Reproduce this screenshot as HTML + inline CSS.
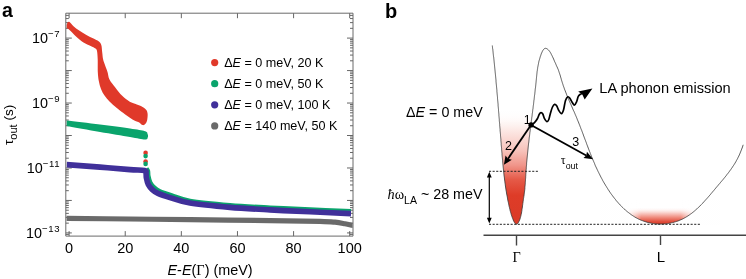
<!DOCTYPE html>
<html><head><meta charset="utf-8"><style>
html,body{margin:0;padding:0;background:#fff;width:746px;height:279px;overflow:hidden}
svg{display:block;will-change:transform}
</style></head><body>
<svg width="746" height="279" viewBox="0 0 746 279">
<text x="2" y="17.3" font-family="'Liberation Sans', sans-serif" font-weight="bold" font-size="19.5">a</text>
<path d="M69.10,236.1V231.1M69.10,13.2V18.2M125.22,236.1V231.1M125.22,13.2V18.2M181.34,236.1V231.1M181.34,13.2V18.2M237.46,236.1V231.1M237.46,13.2V18.2M293.58,236.1V231.1M293.58,13.2V18.2M349.70,236.1V231.1M349.70,13.2V18.2M65.8,234.41H68.8M353.0,234.41H350.0M65.8,232.92H71.8M353.0,232.92H347.0M65.8,223.15H68.8M353.0,223.15H350.0M65.8,217.43H68.8M353.0,217.43H350.0M65.8,213.37H68.8M353.0,213.37H350.0M65.8,210.22H68.8M353.0,210.22H350.0M65.8,207.65H68.8M353.0,207.65H350.0M65.8,205.48H68.8M353.0,205.48H350.0M65.8,203.60H68.8M353.0,203.60H350.0M65.8,201.94H68.8M353.0,201.94H350.0M65.8,200.45H71.8M353.0,200.45H347.0M65.8,190.68H68.8M353.0,190.68H350.0M65.8,184.96H68.8M353.0,184.96H350.0M65.8,180.90H68.8M353.0,180.90H350.0M65.8,177.75H68.8M353.0,177.75H350.0M65.8,175.18H68.8M353.0,175.18H350.0M65.8,173.01H68.8M353.0,173.01H350.0M65.8,171.13H68.8M353.0,171.13H350.0M65.8,169.47H68.8M353.0,169.47H350.0M65.8,167.98H71.8M353.0,167.98H347.0M65.8,158.21H68.8M353.0,158.21H350.0M65.8,152.49H68.8M353.0,152.49H350.0M65.8,148.43H68.8M353.0,148.43H350.0M65.8,145.28H68.8M353.0,145.28H350.0M65.8,142.71H68.8M353.0,142.71H350.0M65.8,140.54H68.8M353.0,140.54H350.0M65.8,138.66H68.8M353.0,138.66H350.0M65.8,137.00H68.8M353.0,137.00H350.0M65.8,135.51H71.8M353.0,135.51H347.0M65.8,125.74H68.8M353.0,125.74H350.0M65.8,120.02H68.8M353.0,120.02H350.0M65.8,115.96H68.8M353.0,115.96H350.0M65.8,112.81H68.8M353.0,112.81H350.0M65.8,110.24H68.8M353.0,110.24H350.0M65.8,108.07H68.8M353.0,108.07H350.0M65.8,106.19H68.8M353.0,106.19H350.0M65.8,104.53H68.8M353.0,104.53H350.0M65.8,103.04H71.8M353.0,103.04H347.0M65.8,93.27H68.8M353.0,93.27H350.0M65.8,87.55H68.8M353.0,87.55H350.0M65.8,83.49H68.8M353.0,83.49H350.0M65.8,80.34H68.8M353.0,80.34H350.0M65.8,77.77H68.8M353.0,77.77H350.0M65.8,75.60H68.8M353.0,75.60H350.0M65.8,73.72H68.8M353.0,73.72H350.0M65.8,72.06H68.8M353.0,72.06H350.0M65.8,70.57H71.8M353.0,70.57H347.0M65.8,60.80H68.8M353.0,60.80H350.0M65.8,55.08H68.8M353.0,55.08H350.0M65.8,51.02H68.8M353.0,51.02H350.0M65.8,47.87H68.8M353.0,47.87H350.0M65.8,45.30H68.8M353.0,45.30H350.0M65.8,43.13H68.8M353.0,43.13H350.0M65.8,41.25H68.8M353.0,41.25H350.0M65.8,39.59H68.8M353.0,39.59H350.0M65.8,38.10H71.8M353.0,38.10H347.0M65.8,28.33H68.8M353.0,28.33H350.0M65.8,22.61H68.8M353.0,22.61H350.0M65.8,18.55H68.8M353.0,18.55H350.0M65.8,15.40H68.8M353.0,15.40H350.0" stroke="#555" stroke-width="0.9" fill="none"/>
<defs><clipPath id="pc"><rect x="66.6" y="13" width="286" height="223"/></clipPath></defs><g clip-path="url(#pc)">
<path d="M60.00,24.00 C61.05,23.33 65.05,24.75 66.30,24.50 C67.55,24.25 66.97,22.92 67.50,22.50 C68.03,22.08 68.50,21.37 69.50,22.00 C70.50,22.63 71.88,24.87 73.50,26.30 C75.12,27.73 77.05,29.17 79.20,30.60 C81.35,32.03 84.02,33.58 86.40,34.90 C88.78,36.22 91.47,37.43 93.50,38.50 C95.53,39.57 97.30,40.22 98.60,41.30 C99.90,42.38 100.70,43.18 101.30,45.00 C101.90,46.82 101.90,49.82 102.20,52.20 C102.50,54.58 102.65,57.22 103.10,59.30 C103.55,61.38 104.17,62.60 104.90,64.70 C105.63,66.80 106.73,69.43 107.50,71.90 C108.27,74.37 108.23,76.95 109.50,79.50 C110.77,82.05 112.98,84.48 115.10,87.20 C117.22,89.92 119.82,93.42 122.20,95.80 C124.58,98.18 127.27,100.17 129.40,101.50 C131.53,102.83 132.80,102.90 135.00,103.80 C137.20,104.70 140.72,105.87 142.60,106.90 C144.48,107.93 145.47,108.85 146.30,110.00 C147.13,111.15 147.45,112.13 147.60,113.80 C147.75,115.47 147.55,118.33 147.20,120.00 C146.85,121.67 146.27,122.95 145.50,123.80 C144.73,124.65 143.72,125.35 142.60,125.10 C141.48,124.85 140.48,123.23 138.80,122.30 C137.12,121.37 135.13,121.08 132.50,119.50 C129.87,117.92 125.67,114.75 123.00,112.80 C120.33,110.85 118.75,109.68 116.50,107.80 C114.25,105.92 111.50,103.55 109.50,101.50 C107.50,99.45 105.92,97.58 104.50,95.50 C103.08,93.42 101.95,91.42 101.00,89.00 C100.05,86.58 99.33,83.85 98.80,81.00 C98.27,78.15 97.98,75.52 97.80,71.90 C97.62,68.28 97.83,62.78 97.70,59.30 C97.57,55.82 97.37,52.80 97.00,51.00 C96.63,49.20 96.55,49.33 95.50,48.50 C94.45,47.67 92.70,47.02 90.70,46.00 C88.70,44.98 85.90,43.95 83.50,42.40 C81.10,40.85 78.45,38.60 76.30,36.70 C74.15,34.80 72.27,32.45 70.60,31.00 C68.93,29.55 68.07,28.42 66.30,28.00 C64.53,27.58 61.05,29.17 60.00,28.50 C58.95,27.83 58.95,24.67 60.00,24.00Z" fill="#e0392a"/>
<path d="M60.00,119.80 C61.08,119.07 59.83,119.80 66.50,120.60 C73.17,121.40 89.42,123.27 100.00,124.60 C110.58,125.93 122.50,127.50 130.00,128.60 C137.50,129.70 142.07,130.30 145.00,131.20 C147.93,132.10 147.13,133.00 147.60,134.00 C148.07,135.00 148.23,136.28 147.80,137.20 C147.37,138.12 147.97,139.55 145.00,139.50 C142.03,139.45 137.50,138.17 130.00,136.90 C122.50,135.63 110.58,133.73 100.00,131.90 C89.42,130.07 73.17,127.05 66.50,125.90 C59.83,124.75 61.08,126.02 60.00,125.00 C58.92,123.98 58.92,120.53 60.00,119.80Z" fill="#0aa46c"/>
<path d="M146.10,168.70 C146.35,169.10 147.28,169.87 147.60,171.10 C147.92,172.33 147.62,174.18 148.00,176.10 C148.38,178.02 148.92,180.67 149.90,182.60 C150.88,184.53 152.28,186.22 153.90,187.70 C155.52,189.18 156.65,190.17 159.60,191.50 C162.55,192.83 166.53,194.08 171.60,195.70 C176.67,197.32 180.27,199.57 190.00,201.20 C199.73,202.83 216.67,204.37 230.00,205.50 C243.33,206.63 256.67,207.27 270.00,208.00 C283.33,208.73 296.50,209.28 310.00,209.90 C323.50,210.52 344.17,211.40 351.00,211.70" stroke="#0aa46c" stroke-width="5.2" fill="none" stroke-linecap="butt" stroke-linejoin="round"/>
<path d="M66.50,164.60 C72.08,165.02 89.42,166.27 100.00,167.10 C110.58,167.93 122.58,169.02 130.00,169.60 C137.42,170.18 141.83,170.03 144.50,170.60 C147.17,171.17 145.68,171.77 146.00,173.00 C146.32,174.23 146.02,176.08 146.40,178.00 C146.78,179.92 147.32,182.57 148.30,184.50 C149.28,186.43 150.68,188.12 152.30,189.60 C153.92,191.08 155.05,192.07 158.00,193.40 C160.95,194.73 164.67,195.98 170.00,197.60 C175.33,199.22 180.00,201.47 190.00,203.10 C200.00,204.73 216.67,206.27 230.00,207.40 C243.33,208.53 256.67,209.17 270.00,209.90 C283.33,210.63 296.50,211.18 310.00,211.80 C323.50,212.42 344.17,213.30 351.00,213.60" stroke="#40309a" stroke-width="5.6" fill="none" stroke-linecap="butt" stroke-linejoin="round"/>
<path d="M66.50,218.40 C77.08,218.50 109.42,218.78 130.00,219.00 C150.58,219.22 166.67,219.43 190.00,219.70 C213.33,219.97 248.33,220.32 270.00,220.60 C291.67,220.88 309.17,221.13 320.00,221.40 C330.83,221.67 330.83,221.80 335.00,222.20 C339.17,222.60 342.17,223.28 345.00,223.80 C347.83,224.32 350.83,225.05 352.00,225.30" stroke="#6a6a6a" stroke-width="5.2" fill="none" stroke-linecap="round" stroke-linejoin="round"/>
</g>
<circle cx="145.6" cy="152.9" r="2.3" fill="#e0392a"/>
<circle cx="145.6" cy="156.1" r="2.3" fill="#0aa46c"/>
<circle cx="145.6" cy="161.5" r="2.3" fill="#e0392a"/>
<circle cx="145.6" cy="163.9" r="2.3" fill="#0aa46c"/>
<path d="M65.8,13.2H353.0V236.1H65.8Z" stroke="#6a6a6a" stroke-width="1" fill="none"/>
<text x="60.2" y="43.0" text-anchor="end" font-family="'Liberation Sans', sans-serif" font-size="14.4">10<tspan font-size="9.6" dy="-6" letter-spacing="0.6">−7</tspan></text>
<text x="60.2" y="108.0" text-anchor="end" font-family="'Liberation Sans', sans-serif" font-size="14.4">10<tspan font-size="9.6" dy="-6" letter-spacing="0.6">−9</tspan></text>
<text x="60.2" y="173.0" text-anchor="end" font-family="'Liberation Sans', sans-serif" font-size="14.4">10<tspan font-size="9.6" dy="-6" letter-spacing="0.6">−11</tspan></text>
<text x="60.2" y="237.9" text-anchor="end" font-family="'Liberation Sans', sans-serif" font-size="14.4">10<tspan font-size="9.6" dy="-6" letter-spacing="0.6">−13</tspan></text>
<text x="69.1" y="252.8" text-anchor="middle" font-family="'Liberation Sans', sans-serif" font-size="14.5">0</text>
<text x="125.2" y="252.8" text-anchor="middle" font-family="'Liberation Sans', sans-serif" font-size="14.5">20</text>
<text x="181.3" y="252.8" text-anchor="middle" font-family="'Liberation Sans', sans-serif" font-size="14.5">40</text>
<text x="237.5" y="252.8" text-anchor="middle" font-family="'Liberation Sans', sans-serif" font-size="14.5">60</text>
<text x="293.6" y="252.8" text-anchor="middle" font-family="'Liberation Sans', sans-serif" font-size="14.5">80</text>
<text x="349.7" y="252.8" text-anchor="middle" font-family="'Liberation Sans', sans-serif" font-size="14.5">100</text>
<text x="167.5" y="274.5" font-family="'Liberation Sans', sans-serif" font-size="14.4"><tspan font-style="italic">E</tspan>-<tspan font-style="italic">E</tspan>(<tspan font-family="'Liberation Serif', serif">Γ</tspan>) (meV)</text>
<text transform="translate(12.5,145) rotate(-90)" font-family="'Liberation Sans', sans-serif" font-size="13.5">τ<tspan font-size="11" dy="4.4">out</tspan><tspan dy="-4.4"> (s)</tspan></text>
<circle cx="214.7" cy="62.6" r="3.6" fill="#e0392a"/>
<text x="224.2" y="66.5" font-family="'Liberation Sans', sans-serif" font-size="12.6">Δ<tspan font-style="italic">E</tspan> = 0 meV, 20 K</text>
<circle cx="214.7" cy="83.7" r="3.6" fill="#0aa46c"/>
<text x="224.2" y="87.6" font-family="'Liberation Sans', sans-serif" font-size="12.6">Δ<tspan font-style="italic">E</tspan> = 0 meV, 50 K</text>
<circle cx="214.7" cy="104.8" r="3.6" fill="#40309a"/>
<text x="224.2" y="108.7" font-family="'Liberation Sans', sans-serif" font-size="12.6">Δ<tspan font-style="italic">E</tspan> = 0 meV, 100 K</text>
<circle cx="214.7" cy="125.9" r="3.6" fill="#6a6a6a"/>
<text x="224.2" y="129.8" font-family="'Liberation Sans', sans-serif" font-size="12.6">Δ<tspan font-style="italic">E</tspan> = 140 meV, 50 K</text>
<text x="385" y="18.3" font-family="'Liberation Sans', sans-serif" font-weight="bold" font-size="20">b</text>
<defs>
<linearGradient id="gG" x1="0" y1="95" x2="0" y2="225" gradientUnits="userSpaceOnUse">
<stop offset="0" stop-color="#fff" stop-opacity="0"/>
<stop offset="0.12" stop-color="#fff" stop-opacity="0"/>
<stop offset="0.25" stop-color="#fdeeeb"/>
<stop offset="0.43" stop-color="#f7c2ba"/>
<stop offset="0.54" stop-color="#f0958a"/>
<stop offset="0.65" stop-color="#e55a48"/>
<stop offset="0.77" stop-color="#de3c28"/>
<stop offset="1" stop-color="#da3a27"/>
</linearGradient>
<linearGradient id="gL" x1="0" y1="207" x2="0" y2="224.5" gradientUnits="userSpaceOnUse">
<stop offset="0" stop-color="#fff" stop-opacity="0"/>
<stop offset="0.3" stop-color="#fbd9d4"/>
<stop offset="0.6" stop-color="#ef8a7c"/>
<stop offset="0.85" stop-color="#e04a38"/>
<stop offset="1" stop-color="#db3a2a"/>
</linearGradient>
<linearGradient id="gLx" x1="628" y1="0" x2="694" y2="0" gradientUnits="userSpaceOnUse">
<stop offset="0" stop-color="#fff" stop-opacity="0.9"/>
<stop offset="0.2" stop-color="#fff" stop-opacity="0"/>
<stop offset="0.8" stop-color="#fff" stop-opacity="0"/>
<stop offset="1" stop-color="#fff" stop-opacity="0.9"/>
</linearGradient>
</defs>
<path d="M492.3,45.5 492.4,46.5 492.5,47.5 492.6,48.5 492.8,49.4 492.9,50.4 493.0,51.4 493.1,52.4 493.2,53.4 493.3,54.4 493.4,55.4 493.5,56.4 493.7,57.3 493.8,58.3 493.9,59.3 494.0,60.3 494.1,61.3 494.2,62.3 494.3,63.3 494.4,64.3 494.5,65.3 494.6,66.3 494.7,67.3 494.8,68.3 494.9,69.3 495.0,70.3 495.1,71.3 495.2,72.3 495.3,73.3 495.4,74.3 495.5,75.3 495.6,76.3 495.7,77.3 495.8,78.3 495.9,79.3 496.0,80.3 496.0,81.3 496.1,82.3 496.2,83.3 496.3,84.3 496.4,85.3 496.5,86.3 496.6,87.3 496.7,88.3 496.8,89.4 496.9,90.4 496.9,91.4 497.0,92.4 497.1,93.4 497.2,94.4 497.3,95.4 497.4,96.4 497.5,97.4 497.5,98.4 497.6,99.4 497.7,100.4 497.8,101.4 497.9,102.4 498.0,103.5 498.1,104.5 498.1,105.5 498.2,106.5 498.3,107.5 498.4,108.5 498.5,109.5 498.5,110.5 498.6,111.5 498.7,112.5 498.8,113.5 498.9,114.5 498.9,115.5 499.0,116.5 499.1,117.5 499.2,118.5 499.3,119.6 499.3,120.6 499.4,121.6 499.5,122.6 499.6,123.6 499.7,124.6 499.7,125.6 499.8,126.6 499.9,127.6 500.0,128.6 500.1,129.6 500.1,130.6 500.2,131.6 500.3,132.6 500.4,133.6 500.5,134.6 500.5,135.6 500.6,136.6 500.7,137.6 500.8,138.6 500.9,139.6 500.9,140.6 501.0,141.6 501.1,142.5 501.2,143.5 501.2,144.5 501.3,145.5 501.4,146.5 501.5,147.5 501.6,148.5 501.6,149.5 501.7,150.5 501.8,151.5 501.9,152.4 502.0,153.4 502.0,154.4 502.1,155.4 502.2,156.4 502.3,157.4 502.4,158.3 502.5,159.3 502.6,160.3 502.6,161.3 502.7,162.3 502.8,163.3 502.9,164.2 503.0,165.2 503.1,166.2 503.2,167.2 503.3,168.2 503.4,169.2 503.5,170.1 503.6,171.1 503.7,172.1 503.8,173.1 503.9,174.1 504.0,175.1 504.1,176.0 504.3,177.0 504.4,178.0 504.5,179.0 504.6,180.0 504.8,181.0 504.9,182.0 505.0,183.0 505.2,184.0 505.3,185.0 505.4,186.0 505.6,187.0 505.7,188.0 505.9,189.0 506.0,190.0 506.2,191.0 506.4,192.0 506.5,193.0 506.7,194.0 506.9,195.0 507.1,196.0 507.3,197.0 507.5,198.1 507.6,199.1 507.8,200.1 508.0,201.1 508.3,202.2 508.5,203.2 508.7,204.2 508.9,205.3 509.1,206.3 509.4,207.3 509.6,208.4 509.9,209.4 510.1,210.5 510.4,211.5 510.7,212.6 511.0,213.6 511.3,214.7 511.6,215.7 512.0,216.7 512.4,217.8 512.8,218.8 513.2,219.9 513.6,220.9 514.1,221.8 514.5,222.6 515.0,223.3 515.5,223.8 516.0,224.1 516.5,224.2 517.0,224.1 517.4,223.7 517.9,223.2 518.4,222.5 518.8,221.7 519.3,220.8 519.7,219.8 520.1,218.7 520.4,217.6 520.7,216.5 521.0,215.3 521.2,214.1 521.5,213.0 521.7,211.8 521.9,210.6 522.0,209.4 522.2,208.2 522.4,207.0 522.5,205.9 522.7,204.7 522.8,203.6 523.0,202.6 523.1,201.5 523.3,200.5 523.4,199.5 523.5,198.6 523.7,197.6 523.8,196.7 524.0,195.8 524.1,194.8 524.2,193.9 524.3,193.0 524.4,192.1 524.6,191.2 524.7,190.2 524.8,189.3 524.9,188.4 524.9,187.4 525.0,186.4 525.1,185.5 525.2,184.5 525.3,183.5 525.3,182.5 525.4,181.5 525.5,180.5 525.5,179.5 525.6,178.5 525.7,177.5 525.7,176.5 525.8,175.4 525.8,174.4 525.9,173.4 526.0,172.4 526.0,171.4 526.1,170.3 526.2,169.3 526.3,168.3 526.3,167.3 526.4,166.3 526.5,165.3 526.6,164.3 526.6,163.2 526.7,162.2 526.8,161.2 526.9,160.2 527.0,159.2 527.1,158.2 527.2,157.2 527.3,156.2 527.4,155.2 527.5,154.2 527.6,153.2 527.7,152.2 527.8,151.2 527.9,150.2 528.0,149.2 528.1,148.2 528.2,147.2 528.3,146.2 528.4,145.2 528.5,144.2 528.6,143.2 528.8,142.2 528.9,141.2 529.0,140.2 529.1,139.2 529.2,138.2 529.3,137.2 529.5,136.2 529.6,135.2 529.7,134.3 529.8,133.3 529.9,132.3 530.1,131.3 530.2,130.3 530.3,129.3 530.4,128.3 530.6,127.3 530.7,126.3 530.8,125.3 530.9,124.4 531.1,123.4 531.2,122.4 531.3,121.4 531.4,120.4 531.6,119.4 531.7,118.4 531.8,117.4 532.0,116.4 532.1,115.5 532.2,114.5 532.3,113.5 532.5,112.5 532.6,111.5 532.7,110.5 532.8,109.5 533.0,108.5 533.1,107.5 533.2,106.6 533.3,105.6 533.5,104.6 533.6,103.6 533.7,102.6 533.8,101.6 533.9,100.6 534.1,99.6 534.2,98.6 534.3,97.6 534.4,96.6 534.5,95.6 534.7,94.6 534.8,93.7 534.9,92.7 535.0,91.7 535.1,90.7 535.2,89.7 535.3,88.7 535.5,87.7 535.6,86.7 535.7,85.7 535.8,84.7Z" fill="url(#gG)"/>
<path d="M612.2,195.3 612.8,196.1 613.4,197.0 614.1,197.8 614.7,198.6 615.4,199.4 616.0,200.3 616.7,201.1 617.4,201.9 618.1,202.7 618.7,203.4 619.4,204.2 620.2,205.0 620.9,205.7 621.6,206.5 622.3,207.2 623.1,207.9 623.8,208.6 624.6,209.3 625.3,210.0 626.1,210.7 626.9,211.3 627.7,212.0 628.5,212.6 629.3,213.2 630.1,213.8 630.9,214.4 631.7,215.0 632.6,215.6 633.4,216.1 634.3,216.7 635.1,217.2 636.0,217.7 636.8,218.1 637.7,218.6 638.6,219.1 639.5,219.5 640.4,219.9 641.3,220.3 642.3,220.6 643.2,221.0 644.1,221.3 645.1,221.6 646.0,221.9 647.0,222.2 647.9,222.5 648.9,222.7 649.8,222.9 650.8,223.1 651.8,223.3 652.8,223.5 653.8,223.6 654.7,223.7 655.7,223.8 656.7,223.9 657.7,224.0 658.7,224.0 659.7,224.0 660.7,224.0 661.7,224.0 662.7,224.0 663.7,223.9 664.7,223.9 665.6,223.8 666.6,223.7 667.6,223.6 668.6,223.4 669.6,223.2 670.6,223.1 671.5,222.8 672.5,222.6 673.5,222.4 674.4,222.1 675.4,221.8 676.3,221.5 677.3,221.2 678.2,220.9 679.1,220.5 680.1,220.1 681.0,219.7 681.9,219.3 682.8,218.9 683.7,218.4 684.6,217.9 685.5,217.4 686.3,216.9 687.2,216.4 688.0,215.8 688.9,215.3 689.7,214.7 690.5,214.1 691.4,213.5 692.2,212.9 693.0,212.2 693.8,211.6 694.6,210.9 695.4,210.2 696.1,209.6 696.9,208.9 697.7,208.1 698.4,207.4 699.2,206.7 700.0,206.0 700.7,205.2 701.4,204.5 702.2,203.7 702.9,203.0 703.6,202.2 704.3,201.4 705.0,200.6 705.7,199.8 706.4,199.1 707.1,198.3 707.8,197.5 708.5,196.7Z" fill="url(#gL)"/>
<rect x="600" y="200" width="120" height="24.6" fill="url(#gLx)"/>
<path d="M489,171.3H538M489,224.3H701" stroke="#222" stroke-width="1" stroke-dasharray="2.1,1.5" fill="none"/>
<path d="M492.3,45.5 492.4,46.5 492.5,47.5 492.6,48.5 492.8,49.4 492.9,50.4 493.0,51.4 493.1,52.4 493.2,53.4 493.3,54.4 493.4,55.4 493.5,56.4 493.7,57.3 493.8,58.3 493.9,59.3 494.0,60.3 494.1,61.3 494.2,62.3 494.3,63.3 494.4,64.3 494.5,65.3 494.6,66.3 494.7,67.3 494.8,68.3 494.9,69.3 495.0,70.3 495.1,71.3 495.2,72.3 495.3,73.3 495.4,74.3 495.5,75.3 495.6,76.3 495.7,77.3 495.8,78.3 495.9,79.3 496.0,80.3 496.0,81.3 496.1,82.3 496.2,83.3 496.3,84.3 496.4,85.3 496.5,86.3 496.6,87.3 496.7,88.3 496.8,89.4 496.9,90.4 496.9,91.4 497.0,92.4 497.1,93.4 497.2,94.4 497.3,95.4 497.4,96.4 497.5,97.4 497.5,98.4 497.6,99.4 497.7,100.4 497.8,101.4 497.9,102.4 498.0,103.5 498.1,104.5 498.1,105.5 498.2,106.5 498.3,107.5 498.4,108.5 498.5,109.5 498.5,110.5 498.6,111.5 498.7,112.5 498.8,113.5 498.9,114.5 498.9,115.5 499.0,116.5 499.1,117.5 499.2,118.5 499.3,119.6 499.3,120.6 499.4,121.6 499.5,122.6 499.6,123.6 499.7,124.6 499.7,125.6 499.8,126.6 499.9,127.6 500.0,128.6 500.1,129.6 500.1,130.6 500.2,131.6 500.3,132.6 500.4,133.6 500.5,134.6 500.5,135.6 500.6,136.6 500.7,137.6 500.8,138.6 500.9,139.6 500.9,140.6 501.0,141.6 501.1,142.5 501.2,143.5 501.2,144.5 501.3,145.5 501.4,146.5 501.5,147.5 501.6,148.5 501.6,149.5 501.7,150.5 501.8,151.5 501.9,152.4 502.0,153.4 502.0,154.4 502.1,155.4 502.2,156.4 502.3,157.4 502.4,158.3 502.5,159.3 502.6,160.3 502.6,161.3 502.7,162.3 502.8,163.3 502.9,164.2 503.0,165.2 503.1,166.2 503.2,167.2 503.3,168.2 503.4,169.2 503.5,170.1 503.6,171.1 503.7,172.1 503.8,173.1 503.9,174.1 504.0,175.1 504.1,176.0 504.3,177.0 504.4,178.0 504.5,179.0 504.6,180.0 504.8,181.0 504.9,182.0 505.0,183.0 505.2,184.0 505.3,185.0 505.4,186.0 505.6,187.0 505.7,188.0 505.9,189.0 506.0,190.0 506.2,191.0 506.4,192.0 506.5,193.0 506.7,194.0 506.9,195.0 507.1,196.0 507.3,197.0 507.5,198.1 507.6,199.1 507.8,200.1 508.0,201.1 508.3,202.2 508.5,203.2 508.7,204.2 508.9,205.3 509.1,206.3 509.4,207.3 509.6,208.4 509.9,209.4 510.1,210.5 510.4,211.5 510.7,212.6 511.0,213.6 511.3,214.7 511.6,215.7 512.0,216.7 512.4,217.8 512.8,218.8 513.2,219.9 513.6,220.9 514.1,221.8 514.5,222.6 515.0,223.3 515.5,223.8 516.0,224.1 516.5,224.2 517.0,224.1 517.4,223.7 517.9,223.2 518.4,222.5 518.8,221.7 519.3,220.8 519.7,219.8 520.1,218.7 520.4,217.6 520.7,216.5 521.0,215.3 521.2,214.1 521.5,213.0 521.7,211.8 521.9,210.6 522.0,209.4 522.2,208.2 522.4,207.0 522.5,205.9 522.7,204.7 522.8,203.6 523.0,202.6 523.1,201.5 523.3,200.5 523.4,199.5 523.5,198.6 523.7,197.6 523.8,196.7 524.0,195.8 524.1,194.8 524.2,193.9 524.3,193.0 524.4,192.1 524.6,191.2 524.7,190.2 524.8,189.3 524.9,188.4 524.9,187.4 525.0,186.4 525.1,185.5 525.2,184.5 525.3,183.5 525.3,182.5 525.4,181.5 525.5,180.5 525.5,179.5 525.6,178.5 525.7,177.5 525.7,176.5 525.8,175.4 525.8,174.4 525.9,173.4 526.0,172.4 526.0,171.4 526.1,170.3 526.2,169.3 526.3,168.3 526.3,167.3 526.4,166.3 526.5,165.3 526.6,164.3 526.6,163.2 526.7,162.2 526.8,161.2 526.9,160.2 527.0,159.2 527.1,158.2 527.2,157.2 527.3,156.2 527.4,155.2 527.5,154.2 527.6,153.2 527.7,152.2 527.8,151.2 527.9,150.2 528.0,149.2 528.1,148.2 528.2,147.2 528.3,146.2 528.4,145.2 528.5,144.2 528.6,143.2 528.8,142.2 528.9,141.2 529.0,140.2 529.1,139.2 529.2,138.2 529.3,137.2 529.5,136.2 529.6,135.2 529.7,134.3 529.8,133.3 529.9,132.3 530.1,131.3 530.2,130.3 530.3,129.3 530.4,128.3 530.6,127.3 530.7,126.3 530.8,125.3 530.9,124.4 531.1,123.4 531.2,122.4 531.3,121.4 531.4,120.4 531.6,119.4 531.7,118.4 531.8,117.4 532.0,116.4 532.1,115.5 532.2,114.5 532.3,113.5 532.5,112.5 532.6,111.5 532.7,110.5 532.8,109.5 533.0,108.5 533.1,107.5 533.2,106.6 533.3,105.6 533.5,104.6 533.6,103.6 533.7,102.6 533.8,101.6 533.9,100.6 534.1,99.6 534.2,98.6 534.3,97.6 534.4,96.6 534.5,95.6 534.7,94.6 534.8,93.7 534.9,92.7 535.0,91.7 535.1,90.7 535.2,89.7 535.3,88.7 535.5,87.7 535.6,86.7 535.7,85.7 535.8,84.7 535.9,83.7 536.0,82.7 536.1,81.7 536.2,80.7 536.3,79.7 536.4,78.6 536.5,77.6 536.6,76.6 536.7,75.6 536.8,74.6 536.9,73.6 537.0,72.6 537.1,71.6 537.3,70.6 537.4,69.6 537.6,68.5 537.7,67.5 537.9,66.5 538.1,65.5 538.3,64.5 538.5,63.5 538.7,62.4 538.9,61.4 539.2,60.4 539.5,59.4 539.8,58.4 540.1,57.3 540.4,56.3 540.8,55.3 541.1,54.3 541.5,53.2 542.0,52.2 542.4,51.3 542.9,50.4 543.4,49.7 543.9,49.1 544.5,48.6 545.1,48.4 545.7,48.3 546.4,48.5 547.0,48.8 547.7,49.3 548.4,49.9 549.0,50.6 549.7,51.5 550.3,52.4 550.9,53.4 551.4,54.5 552.0,55.6 552.5,56.7 553.1,57.9 553.6,59.0 554.1,60.2 554.5,61.3 555.0,62.3 555.5,63.3 555.9,64.3 556.3,65.3 556.7,66.2 557.2,67.1 557.5,68.0 557.9,68.8 558.3,69.7 558.6,70.6 558.9,71.5 559.2,72.4 559.5,73.3 559.8,74.2 560.1,75.1 560.4,76.0 560.6,76.9 560.9,77.9 561.2,78.8 561.4,79.7 561.7,80.7 562.0,81.6 562.3,82.6 562.6,83.5 562.9,84.4 563.2,85.4 563.5,86.3 563.9,87.3 564.2,88.2 564.5,89.2 564.9,90.1 565.3,91.0 565.6,92.0 566.0,92.9 566.4,93.9 566.7,94.8 567.1,95.8 567.5,96.7 567.9,97.6 568.3,98.6 568.7,99.5 569.1,100.5 569.5,101.4 569.9,102.3 570.3,103.3 570.8,104.2 571.2,105.2 571.6,106.1 572.0,107.0 572.4,108.0 572.8,108.9 573.2,109.9 573.6,110.8 574.1,111.7 574.5,112.7 574.9,113.6 575.3,114.6 575.7,115.5 576.1,116.4 576.5,117.4 576.9,118.3 577.2,119.2 577.6,120.2 578.0,121.1 578.4,122.0 578.8,123.0 579.1,123.9 579.5,124.8 579.9,125.8 580.2,126.7 580.6,127.6 580.9,128.6 581.3,129.5 581.7,130.4 582.0,131.3 582.4,132.3 582.7,133.2 583.1,134.1 583.4,135.1 583.7,136.0 584.1,136.9 584.4,137.8 584.8,138.8 585.1,139.7 585.5,140.6 585.8,141.5 586.2,142.4 586.5,143.4 586.8,144.3 587.2,145.2 587.5,146.1 587.9,147.0 588.2,148.0 588.6,148.9 588.9,149.8 589.3,150.7 589.6,151.6 590.0,152.5 590.3,153.5 590.7,154.4 591.1,155.3 591.4,156.2 591.8,157.1 592.2,158.0 592.5,158.9 592.9,159.8 593.3,160.7 593.7,161.6 594.1,162.5 594.5,163.4 594.8,164.3 595.2,165.3 595.6,166.2 596.0,167.1 596.5,168.0 596.9,168.9 597.3,169.8 597.7,170.6 598.1,171.5 598.6,172.4 599.0,173.3 599.5,174.2 599.9,175.1 600.4,176.0 600.8,176.9 601.3,177.8 601.8,178.7 602.3,179.6 602.7,180.5 603.2,181.3 603.7,182.2 604.2,183.1 604.8,184.0 605.3,184.9 605.8,185.8 606.4,186.6 606.9,187.5 607.5,188.4 608.0,189.3 608.6,190.1 609.2,191.0 609.7,191.9 610.3,192.7 610.9,193.6 611.5,194.4 612.2,195.3 612.8,196.1 613.4,197.0 614.1,197.8 614.7,198.6 615.4,199.4 616.0,200.3 616.7,201.1 617.4,201.9 618.1,202.7 618.7,203.4 619.4,204.2 620.2,205.0 620.9,205.7 621.6,206.5 622.3,207.2 623.1,207.9 623.8,208.6 624.6,209.3 625.3,210.0 626.1,210.7 626.9,211.3 627.7,212.0 628.5,212.6 629.3,213.2 630.1,213.8 630.9,214.4 631.7,215.0 632.6,215.6 633.4,216.1 634.3,216.7 635.1,217.2 636.0,217.7 636.8,218.1 637.7,218.6 638.6,219.1 639.5,219.5 640.4,219.9 641.3,220.3 642.3,220.6 643.2,221.0 644.1,221.3 645.1,221.6 646.0,221.9 647.0,222.2 647.9,222.5 648.9,222.7 649.8,222.9 650.8,223.1 651.8,223.3 652.8,223.5 653.8,223.6 654.7,223.7 655.7,223.8 656.7,223.9 657.7,224.0 658.7,224.0 659.7,224.0 660.7,224.0 661.7,224.0 662.7,224.0 663.7,223.9 664.7,223.9 665.6,223.8 666.6,223.7 667.6,223.6 668.6,223.4 669.6,223.2 670.6,223.1 671.5,222.8 672.5,222.6 673.5,222.4 674.4,222.1 675.4,221.8 676.3,221.5 677.3,221.2 678.2,220.9 679.1,220.5 680.1,220.1 681.0,219.7 681.9,219.3 682.8,218.9 683.7,218.4 684.6,217.9 685.5,217.4 686.3,216.9 687.2,216.4 688.0,215.8 688.9,215.3 689.7,214.7 690.5,214.1 691.4,213.5 692.2,212.9 693.0,212.2 693.8,211.6 694.6,210.9 695.4,210.2 696.1,209.6 696.9,208.9 697.7,208.1 698.4,207.4 699.2,206.7 700.0,206.0 700.7,205.2 701.4,204.5 702.2,203.7 702.9,203.0 703.6,202.2 704.3,201.4 705.0,200.6 705.7,199.8 706.4,199.1 707.1,198.3 707.8,197.5 708.5,196.7 709.2,195.9 709.9,195.1 710.6,194.3 711.2,193.5 711.9,192.7 712.6,191.9 713.2,191.1 713.9,190.4 714.5,189.6 715.2,188.8 715.8,188.0 716.5,187.2 717.1,186.5 717.8,185.7 718.4,185.0 719.0,184.2 719.7,183.5 720.3,182.7 720.9,182.0 721.5,181.3 722.2,180.5 722.8,179.8 723.4,179.1 724.0,178.3 724.6,177.6 725.2,176.9 725.8,176.1 726.4,175.4 726.9,174.6 727.5,173.9 728.1,173.2 728.7,172.4 729.2,171.7 729.8,170.9 730.3,170.1 730.9,169.4 731.4,168.6 732.0,167.8 732.5,167.0 733.0,166.2 733.6,165.4 734.1,164.6 734.6,163.8 735.1,163.0 735.6,162.1 736.1,161.3 736.5,160.4 737.0,159.6 737.5,158.7 737.9,157.8 738.4,156.9 738.8,156.0 739.3,155.0 739.7,154.1 740.1,153.1 740.5,152.1 740.9,151.1 741.3,150.1 741.7,149.1 742.1,148.0 742.5,147.0 742.8,145.9 743.2,144.8" stroke="#333" stroke-width="0.8" fill="none" stroke-linejoin="round"/>
<path d="M483.5,235.2H746M516.5,235.2V245.4M660.5,235.2V245" stroke="#444" stroke-width="1.4" fill="none"/>
<text x="516.6" y="261.9" text-anchor="middle" font-family="'Liberation Serif', serif" font-size="14.3">Γ</text>
<text x="661" y="262" text-anchor="middle" font-family="'Liberation Sans', sans-serif" font-size="15">L</text>
<path d="M489.3,176V219" stroke="#000" stroke-width="1.2"/>
<path d="M489.3,171.8L486.9,177.5L491.7,177.5Z M489.3,223.5L486.9,217.8L491.7,217.8Z" fill="#000"/>
<path d="M531,125L508.02,158.67" stroke="#000" stroke-width="1.8"/><path d="M503.9,164.7L505.55,155.54L508.02,158.67L511.83,159.82Z" fill="#000"/>
<path d="M531,125L586.27,155.44" stroke="#000" stroke-width="1.8"/><path d="M593.1,159.2L583.48,158.01L586.27,155.44L586.95,151.70Z" fill="#000"/>
<path d="M531.00,124.80 C531.58,124.43 533.42,123.65 534.50,122.60 C535.58,121.55 536.70,119.90 537.50,118.50 C538.30,117.10 538.72,115.17 539.30,114.20 C539.88,113.23 540.42,112.73 541.00,112.70 C541.58,112.67 542.22,113.02 542.80,114.00 C543.38,114.98 543.82,117.33 544.50,118.60 C545.18,119.87 546.18,121.45 546.90,121.60 C547.62,121.75 548.20,120.93 548.80,119.50 C549.40,118.07 549.88,115.08 550.50,113.00 C551.12,110.92 551.82,108.43 552.50,107.00 C553.18,105.57 553.88,104.57 554.60,104.40 C555.32,104.23 556.10,104.98 556.80,106.00 C557.50,107.02 558.02,109.23 558.80,110.50 C559.58,111.77 560.72,113.68 561.50,113.60 C562.28,113.52 562.83,112.18 563.50,110.00 C564.17,107.82 564.77,102.70 565.50,100.50 C566.23,98.30 567.15,97.13 567.90,96.80 C568.65,96.47 569.32,97.63 570.00,98.50 C570.68,99.37 571.27,100.88 572.00,102.00 C572.73,103.12 573.65,105.20 574.40,105.20 C575.15,105.20 575.87,103.45 576.50,102.00 C577.13,100.55 577.62,97.75 578.20,96.50 C578.78,95.25 579.28,95.05 580.00,94.50 C580.72,93.95 582.08,93.42 582.50,93.20" stroke="#000" stroke-width="1.7" fill="none" stroke-linejoin="round"/>
<path d="M592.4,88.5L578.2,91.5L582.3,94.6L584.7,99.6Z" fill="#000"/>
<circle cx="531.1" cy="124.9" r="2.7" fill="#000"/>
<text x="523.8" y="123.5" font-family="'Liberation Sans', sans-serif" font-size="12.5">1</text>
<text x="505" y="149.8" font-family="'Liberation Sans', sans-serif" font-size="12.5">2</text>
<text x="572.3" y="145.6" font-family="'Liberation Sans', sans-serif" font-size="12.5">3</text>
<text x="560.8" y="164" font-family="'Liberation Serif', serif" font-size="12">τ<tspan font-family="'Liberation Sans', sans-serif" font-size="8.8" dy="4.5">out</tspan></text>
<text x="406" y="116.8" font-family="'Liberation Sans', sans-serif" font-size="14.3">Δ<tspan font-style="italic">E</tspan> = 0 meV</text>
<text x="387.5" y="199.4" font-family="'Liberation Sans', sans-serif" font-size="14.3"><tspan font-family="'Liberation Serif', serif" font-style="italic">ħ</tspan><tspan font-family="'Liberation Serif', serif">ω</tspan><tspan font-size="10.5" dy="4.8">LA</tspan><tspan dy="-4.8"> ~ 28 meV</tspan></text>
<text x="599.3" y="92.8" font-family="'Liberation Sans', sans-serif" font-size="14.6">LA phonon emission</text>
</svg></body></html>
